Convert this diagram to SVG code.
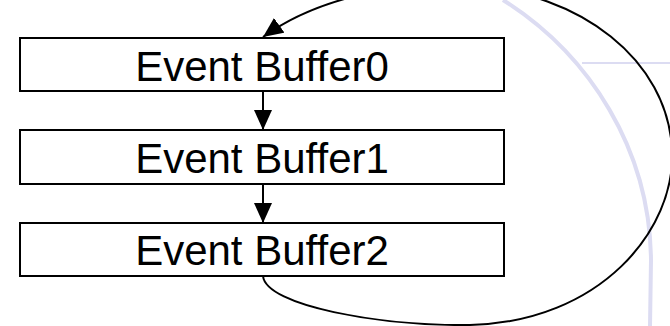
<svg xmlns="http://www.w3.org/2000/svg" width="670" height="326" viewBox="0 0 670 326">
  <style>
    .box { fill: #ffffff; stroke: #000000; stroke-width: 2; }
    .label { font-family: "Liberation Sans", Arial, sans-serif; font-size: 42px; fill: #000000; text-anchor: middle; }
    .edge { fill: none; stroke: #000000; stroke-width: 2; }
    .wm { fill: none; stroke: #dcdcf2; }
  </style>
  <defs>
    <marker id="arrow" viewBox="0 0 20 18" refX="20" refY="9" markerWidth="20" markerHeight="18" markerUnits="userSpaceOnUse" orient="auto">
      <path d="M0,0 L20,9 L0,18 Z" fill="#000000"/>
    </marker>
  </defs>

  <!-- faint background decoration -->
  <g id="background">
    <path class="wm" stroke-width="4" d="M 503 0 C 590 55 650 150 651 260 L 650 326"/>
    <line class="wm" stroke-width="2" x1="582" y1="63" x2="670" y2="63"/>
  </g>

  <g id="connectors">
    <line class="edge" x1="263" y1="91" x2="263" y2="130" marker-end="url(#arrow)"/>
    <line class="edge" x1="263" y1="184" x2="263" y2="223" marker-end="url(#arrow)"/>
    <path class="edge" marker-end="url(#arrow)"
          d="M 263 276 C 266 306 380 326 470 325 C 600 322 676 230 672 150 C 668 60 580 -8 470 -14 C 400 -18 320 -4 263 37"/>
  </g>

  <g id="buffer0">
    <rect class="box" x="20" y="38" width="484" height="53"/>
    <text class="label" x="262" y="81">Event Buffer0</text>
  </g>
  <g id="buffer1">
    <rect class="box" x="20" y="130" width="484" height="54"/>
    <text class="label" x="262" y="173">Event Buffer1</text>
  </g>
  <g id="buffer2">
    <rect class="box" x="20" y="223" width="484" height="53"/>
    <text class="label" x="262" y="265">Event Buffer2</text>
  </g>
</svg>
